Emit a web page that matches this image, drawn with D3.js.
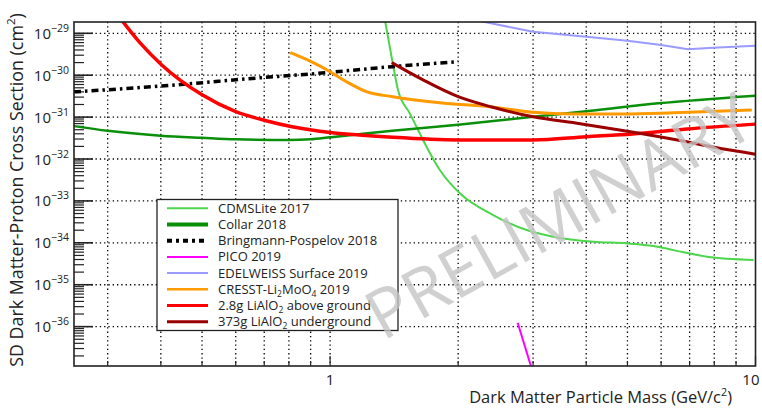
<!DOCTYPE html>
<html><head><meta charset="utf-8">
<script src="https://cdn.jsdelivr.net/npm/d3@7"></script>
<style>html,body{margin:0;padding:0;background:#fff;} svg{display:block;font-family:"Open Sans","Noto Sans",sans-serif;}</style>
</head><body><svg id="c" width="762" height="408"></svg>
<script>
// ---------------- data ----------------
const cdmsMass  = [1.345,1.406,1.444,1.539,1.596,1.685,1.811,2.018,2.417,2.898,3.347,4.16,4.99,5.76,6.42,7.69,9.9];
const cdmsSigma = [2.1e-29,1.75e-30,4.43e-31,1.23e-31,5.9e-32,1.97e-32,5.47e-33,1.52e-33,4.6e-34,2.02e-34,1.4e-34,1.06e-34,9.7e-35,8.4e-35,6.7e-35,4.66e-35,3.9e-35];

const collarMass  = [0.25,0.30,0.40,0.50,0.60,0.80,0.90,1.0,1.17,1.40,2.0,3.0,4.1,5.9,10];
const collarSigma = [6.1e-32,4.7e-32,3.6e-32,3.2e-32,2.95e-32,2.85e-32,2.95e-32,3.3e-32,3.9e-32,4.7e-32,6.6e-32,1.02e-31,1.42e-31,2.13e-31,3.25e-31];

const bpMass  = [0.25,0.40,0.707,0.90,1.40,2.0];
const bpSigma = [4.0e-31,5.5e-31,8.9e-31,1.07e-30,1.6e-30,2.1e-30];

const picoMass  = [2.76,2.985];
const picoSigma = [1.24e-36,9.2e-38];

const edwMass  = [2.25,3.0,4.0,5.0,6.0,6.94,7.94,10];
const edwSigma = [1.95e-29,1.09e-29,8.3e-30,6.66e-30,5.26e-30,4.15e-30,4.53e-30,5.06e-30];

const cresstMass  = [0.806,0.903,1.0,1.092,1.217,1.404,1.81,2.375,3.0,3.73,4.89,6.42,9.8];
const cresstSigma = [3.44e-30,2.1e-30,1.21e-30,7.0e-31,4.04e-31,3.07e-31,2.21e-31,1.77e-31,1.3e-31,1.19e-31,1.19e-31,1.27e-31,1.48e-31];

const aboveMass  = [0.322,0.358,0.402,0.50,0.60,0.707,0.814,1.0,1.17,1.40,2.0,3.0,4.0,5.14,6.89,10];
const aboveSigma = [2.2e-29,5.8e-30,1.75e-30,3.4e-31,1.35e-31,8.2e-32,5.9e-32,4.3e-32,3.75e-32,3.3e-32,2.85e-32,2.85e-32,3.4e-32,3.95e-32,5.2e-32,6.8e-32];

const underMass  = [1.396,1.654,2.0,2.4,3.0,3.87,5.0,6.6,8.0,10];
const underSigma = [1.99e-30,7.7e-31,3.07e-31,1.74e-31,1.02e-31,6.95e-32,4.6e-32,2.8e-32,1.9e-32,1.3e-32];

const yDecades = [-29,-30,-31,-32,-33,-34,-35,-36];
const xMajor = [1,10];
const xMinor = [0.3,0.4,0.5,0.6,0.7,0.8,0.9,2,3,4,5,6,7,8,9];

const series = [
  {label:["CDMSLite 2017"], m:cdmsMass, s:cdmsSigma, color:"#4cd64c", w:2, lw:2, dash:null, curve:"smooth"},
  {label:["Collar 2018"], m:collarMass, s:collarSigma, color:"#0a8f0a", w:2.5, lw:4, dash:null, curve:"smooth"},
  {label:["Bringmann-Pospelov 2018"], m:bpMass, s:bpSigma, color:"#000000", w:3.5, lw:4, dash:"7,4,2.5,4", curve:"smooth"},
  {label:["PICO 2019"], m:picoMass, s:picoSigma, color:"#ff00ff", w:2, lw:2, dash:null, curve:"linear"},
  {label:["EDELWEISS Surface 2019"], m:edwMass, s:edwSigma, color:"#9a9aff", w:2, lw:2, dash:null, curve:"linear"},
  {label:["CRESST-Li","2","MoO","4"," 2019"], m:cresstMass, s:cresstSigma, color:"#ff9a00", w:3, lw:2.5, dash:null, curve:"smooth"},
  {label:["2.8g LiAlO","2"," above ground"], m:aboveMass, s:aboveSigma, color:"#ff0000", w:3.5, lw:3, dash:null, curve:"smooth"},
  {label:["373g LiAlO","2","  underground"], m:underMass, s:underSigma, color:"#9b0000", w:3, lw:3, dash:null, curve:"smooth"}
];

// ---------------- scales ----------------
const x = d3.scaleLog().domain([0.25,10]).range([74,755.5]);
const y = d3.scaleLog().domain([1.86e-29,1.15e-37]).range([22,366]);
const [X0,X1] = x.range(), [Y0,Y1] = y.range();

const svg = d3.select("#c");
svg.append("rect").attr("width",762).attr("height",408).attr("fill","#fff");

svg.append("defs").append("clipPath").attr("id","clip")
  .append("rect").attr("x",X0).attr("y",Y0).attr("width",X1-X0).attr("height",Y1-Y0);

// grid
const grid = svg.append("g").attr("stroke","#000").attr("stroke-width",1.3).attr("stroke-dasharray","1.3,3");
grid.selectAll("line.v").data(xMinor.concat([1])).join("line")
  .attr("x1",d=>x(d)).attr("x2",d=>x(d)).attr("y1",Y0).attr("y2",Y1);
grid.selectAll("line.h").data(yDecades).join("line")
  .attr("x1",X0).attr("x2",X1).attr("y1",d=>y(Math.pow(10,d))).attr("y2",d=>y(Math.pow(10,d)));

// ticks
const tk = svg.append("g").attr("stroke","#222").attr("stroke-width",1.2);
const yMinorVals = [];
for (let e=-37; e<=-29; e++) for (let k=2;k<=9;k++){ const v=k*Math.pow(10,e); if (v<=y.domain()[0] && v>=y.domain()[1]) yMinorVals.push(v); }
tk.selectAll("line.ym").data(yMinorVals).join("line")
  .attr("x1",X0).attr("x2",X0+10).attr("y1",d=>y(d)).attr("y2",d=>y(d));
tk.selectAll("line.yM").data(yDecades).join("line").attr("stroke-width",1.6)
  .attr("x1",X0).attr("x2",X0+19).attr("y1",d=>y(Math.pow(10,d))).attr("y2",d=>y(Math.pow(10,d)));
tk.selectAll("line.xm").data(xMinor).join("line")
  .attr("x1",d=>x(d)).attr("x2",d=>x(d)).attr("y1",Y1).attr("y2",Y1-5);
tk.selectAll("line.xM").data(xMajor).join("line")
  .attr("x1",d=>x(d)).attr("x2",d=>x(d)).attr("y1",Y1).attr("y2",Y1-10);

// curves
const plot = svg.append("g").attr("clip-path","url(#clip)");
series.forEach(sr=>{
  const pts = sr.m.map((m,i)=>[m,sr.s[i]]);
  const line = d3.line().x(d=>x(d[0])).y(d=>y(d[1]))
    .curve(sr.curve==="smooth"? d3.curveMonotoneX : d3.curveLinear);
  plot.append("path").datum(pts).attr("d",line).attr("fill","none")
    .attr("stroke",sr.color).attr("stroke-width",sr.w)
    .attr("stroke-dasharray",sr.dash).attr("stroke-linejoin","round");
});

// frame
svg.append("rect").attr("x",X0).attr("y",Y0).attr("width",X1-X0).attr("height",Y1-Y0)
  .attr("fill","none").attr("stroke","#222").attr("stroke-width",1.6);

// y tick labels
const yl = svg.append("g").attr("fill","#222");
yDecades.forEach(e=>{
  const t = yl.append("text").attr("x",X0-5).attr("y",y(Math.pow(10,e))+5.5)
    .attr("text-anchor","end").attr("font-size",15);
  t.append("tspan").text("10");
  t.append("tspan").attr("font-size",10.5).attr("dy",-7).text("\u2212"+(-e));
});
// x tick labels
svg.append("text").attr("x",x(1)).attr("y",385).attr("text-anchor","middle").attr("font-size",15).attr("fill","#222").text("1");
svg.append("text").attr("x",x(10)+4).attr("y",385).attr("text-anchor","end").attr("font-size",15).attr("fill","#222").text("10");

function fit(sel, target, base){
  const len = sel.node().getComputedTextLength();
  sel.attr("font-size", base*target/len);
}
// axis titles
const xt = svg.append("text").attr("x",732).attr("y",403).attr("text-anchor","end").attr("font-size",17).attr("fill","#222");
xt.append("tspan").text("Dark Matter Particle Mass (GeV/c");
xt.append("tspan").attr("font-size","0.65em").attr("dy",-7).text("2");
xt.append("tspan").attr("dy",7).text(")");
fit(xt,263,17);

const ytt = svg.append("text").attr("transform","translate(23,190) rotate(-90)").attr("text-anchor","middle").attr("font-size",20).attr("fill","#222");
ytt.append("tspan").text("SD Dark Matter-Proton Cross Section (cm");
ytt.append("tspan").attr("font-size","0.65em").attr("dy",-8).text("2");
ytt.append("tspan").attr("dy",8).text(")");
fit(ytt,354,20);

// legend
const lg = svg.append("g");
lg.append("rect").attr("x",157).attr("y",199.5).attr("width",241).attr("height",131)
  .attr("fill","#fff").attr("stroke","#222").attr("stroke-width",1.3);
series.forEach((sr,i)=>{
  const cy = 208.3 + i*16.2;
  lg.append("line").attr("x1",167).attr("x2",208).attr("y1",cy).attr("y2",cy)
    .attr("stroke",sr.color).attr("stroke-width",sr.lw).attr("stroke-dasharray",sr.dash? "5,4,3,4":null);
  const t = lg.append("text").attr("x",218).attr("y",cy+4.5).attr("font-size",13).attr("fill","#222");
  sr.label.forEach((p,j)=>{
    const ts = t.append("tspan").text(p);
    if (j%2===1){ ts.attr("font-size",8.5).attr("dy",3); }
    else if (j>0){ ts.attr("dy",-3); }
  });
});

// watermark
svg.append("text").attr("transform","translate(558,214) rotate(-29)")
  .attr("text-anchor","middle").attr("dominant-baseline","central")
  .attr("font-size",66).attr("fill","#c4c4c4").attr("fill-opacity",0.8).text("PRELIMINARY")
  .call(s=>fit(s,430,66));
</script></body></html>
